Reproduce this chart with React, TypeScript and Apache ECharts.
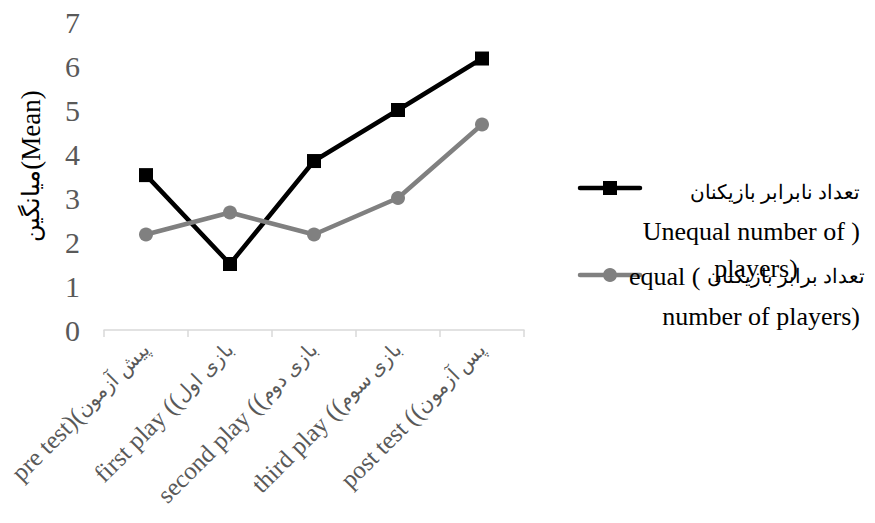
import React, { useEffect, useRef } from "react";
import * as echarts from "echarts";

const categories = [
  "pre test)(پیش آزمون",
  "first play ((بازی اول",
  "second play ((بازی دوم",
  "third play ((بازی سوم",
  "post test ((پس آزمون",
];
const seriesNames = ["تعداد نابرابر بازیکنان Unequal number of players", "تعداد برابر بازیکنان equal number of players"];
const unequalValues = [3.52, 1.5, 3.84, 5.0, 6.17];
const equalValues = [2.17, 2.67, 2.17, 3.0, 4.67];
const yTicks = { min: 0, max: 7, interval: 1 };
const yAxisName = "میانگین(Mean)";
const legendUnequalLines = ["تعداد نابرابر بازیکنان", "Unequal number of )", "players)"];
const legendEqualLines = ["equal ( تعداد برابر بازیکنان", "number of players)"];

const SERIF = "'Liberation Serif', 'Times New Roman', serif";

// split a mixed string into visual-order runs of Latin / Persian text, as rich-text markup
function toRich(s: string): string {
  const parts = s.split(/([\u0600-\u06FF\u200c][\u0600-\u06FF\u200c ]*)/).filter((p) => p.length > 0);
  return parts.map((p) => (/[\u0600-\u06FF]/.test(p) ? `{fa|${p}}` : `{en|${p}}`)).join("");
}

export default function App() {
  const ref = useRef<HTMLDivElement>(null);
  useEffect(() => {
    if (!ref.current) return;
    const chart = echarts.init(ref.current, null, { renderer: "svg" });
    const legendRich = {
      en: { fontFamily: SERIF, fontSize: 26, color: "#000" },
      fa: { fontFamily: SERIF, fontSize: 20, color: "#000" },
    };
    const textStyle = (text: string, x: number, y: number, align = "right") => ({
      type: "text",
      x,
      y,
      style: {
        text: toRich(text),
        rich: legendRich,
        fill: "#000",
        font: `26px ${SERIF}`,
        align,
        verticalAlign: "middle",
      },
    });
    chart.setOption({
      animation: false,
      backgroundColor: "#fff",
      grid: { left: 104, right: 351, top: 22, bottom: 193, containLabel: false, outerBoundsMode: "none" },
      xAxis: {
        type: "category",
        data: categories,
        boundaryGap: true,
        axisLine: { lineStyle: { color: "#d9d9d9", width: 1.5 } },
        axisTick: { show: true, length: 7, lineStyle: { color: "#d9d9d9", width: 1.5 } },
        axisLabel: {
          rotate: 45,
          interval: 0,
          margin: 16,
          color: "#595959",
          fontFamily: SERIF,
          fontSize: 25,
          formatter: (v: string) => toRich(v),
          rich: {
            en: { fontFamily: SERIF, fontSize: 25, color: "#595959" },
            fa: { fontFamily: SERIF, fontSize: 20, color: "#595959" },
          },
        },
        splitLine: { show: false },
      },
      yAxis: {
        type: "value",
        min: yTicks.min,
        max: yTicks.max,
        interval: yTicks.interval,
        axisLine: { show: false },
        axisTick: { show: false },
        splitLine: { show: false },
        axisLabel: {
          color: "#595959",
          fontFamily: SERIF,
          fontSize: 30,
          margin: 24,
        },
        name: toRich(yAxisName),
        nameLocation: "middle",
        nameRotate: 90,
        nameGap: 60,
        nameTextStyle: {
          color: "#000",
          fontFamily: SERIF,
          fontSize: 27,
          padding: [0, 0, 0, 20],
          rich: {
            en: { fontFamily: SERIF, fontSize: 27, color: "#000" },
            fa: { fontFamily: SERIF, fontSize: 24, color: "#000" },
          },
        },
      },
      series: [
        {
          name: seriesNames[0],
          type: "line",
          data: unequalValues,
          symbol: "rect",
          symbolSize: 14,
          lineStyle: { color: "#000", width: 4.5 },
          itemStyle: { color: "#000" },
        },
        {
          name: seriesNames[1],
          type: "line",
          data: equalValues,
          symbol: "circle",
          symbolSize: 14,
          lineStyle: { color: "#808080", width: 4.5 },
          itemStyle: { color: "#808080" },
        },
      ],
      graphic: [
        { type: "line", shape: { x1: 580, y1: 188, x2: 640, y2: 188 }, style: { stroke: "#000", lineWidth: 4.5, lineCap: "round" } },
        { type: "rect", shape: { x: 603, y: 181, width: 14, height: 14 }, style: { fill: "#000" } },
        { type: "line", shape: { x1: 580, y1: 275, x2: 640, y2: 275 }, style: { stroke: "#808080", lineWidth: 4.5, lineCap: "round" } },
        { type: "circle", shape: { cx: 610, cy: 275, r: 7 }, style: { fill: "#808080" } },
        textStyle(legendUnequalLines[0], 860, 192),
        textStyle(legendUnequalLines[1], 860, 231),
        textStyle(legendUnequalLines[2], 756, 268, "center"),
        textStyle(legendEqualLines[0], 865, 276),
        textStyle(legendEqualLines[1], 860, 316),
      ],
    });
    return () => chart.dispose();
  }, []);
  return <div ref={ref} style={{ position: "absolute", left: 0, top: 0, width: 875, height: 523 }} />;
}
